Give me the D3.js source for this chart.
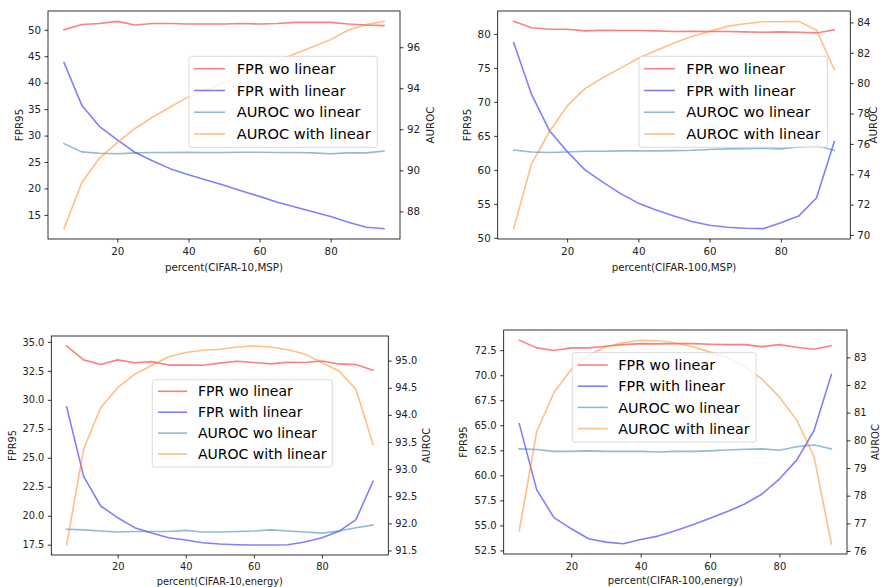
<!DOCTYPE html>
<html>
<head>
<meta charset="utf-8">
<script src="https://cdn.jsdelivr.net/npm/d3@7"></script>
<style>
  body { margin: 0; background: #fff; }
  svg { display: block; }
  text { font-family: "DejaVu Sans", sans-serif; fill: #222; }
</style>
</head>
<body>
<svg id="fig" width="883" height="587"></svg>
<script>
// Pruning percentage on the x axis (shared by all four runs)
const percent = [5, 10, 15, 20, 25, 30, 35, 40, 45, 50, 55, 60, 65, 70, 75, 80, 85, 90, 95];
const xTicks = [20, 40, 60, 80];

const seriesNames = ["FPR wo linear", "FPR with linear", "AUROC wo linear", "AUROC with linear"];

// CIFAR-10, MSP
const c10mspFprWo   = [50.0, 51.0, 51.2, 51.6, 50.9, 51.2, 51.2, 51.1, 51.1, 51.1, 51.2, 51.1, 51.2, 51.4, 51.4, 51.4, 51.1, 50.9, 50.8];
const c10mspFprWith = [43.8, 35.75, 31.7, 29.2, 26.8, 25.2, 23.7, 22.6, 21.6, 20.6, 19.5, 18.5, 17.4, 16.5, 15.6, 14.7, 13.6, 12.65, 12.4];
const c10mspAucWo   = [91.3, 90.9, 90.83, 90.81, 90.85, 90.87, 90.87, 90.88, 90.87, 90.87, 90.88, 90.88, 90.87, 90.87, 90.85, 90.81, 90.85, 90.85, 90.94];
const c10mspAucWith = [87.16, 89.4, 90.6, 91.35, 92.04, 92.6, 93.1, 93.58, 93.93, 94.27, 94.63, 94.97, 95.32, 95.68, 96.02, 96.37, 96.84, 97.1, 97.26];
const c10mspLeftTicks  = [15, 20, 25, 30, 35, 40, 45, 50];
const c10mspRightTicks = [88, 90, 92, 94, 96];

// CIFAR-100, MSP
const c100mspFprWo   = [81.85, 80.9, 80.7, 80.7, 80.45, 80.55, 80.5, 80.5, 80.45, 80.35, 80.4, 80.35, 80.35, 80.3, 80.25, 80.3, 80.25, 80.15, 80.6];
const c100mspFprWith = [78.7, 71.1, 65.8, 62.7, 60.0, 58.2, 56.5, 55.1, 54.1, 53.2, 52.4, 51.85, 51.55, 51.4, 51.35, 52.2, 53.2, 55.85, 64.15];
const c100mspAucWo   = [75.6, 75.47, 75.43, 75.47, 75.52, 75.52, 75.54, 75.54, 75.54, 75.56, 75.58, 75.63, 75.67, 75.69, 75.71, 75.67, 75.8, 75.9, 75.58];
const c100mspAucWith = [70.42, 74.69, 76.8, 78.5, 79.64, 80.36, 80.99, 81.64, 82.15, 82.65, 83.08, 83.41, 83.74, 83.91, 84.04, 84.04, 84.07, 83.5, 80.9];
const c100mspLeftTicks  = [50, 55, 60, 65, 70, 75, 80];
const c100mspRightTicks = [70, 72, 74, 76, 78, 80, 82, 84];

// CIFAR-10, energy
const c10enFprWo   = [34.65, 33.45, 33.05, 33.45, 33.2, 33.3, 33.0, 33.0, 32.98, 33.17, 33.33, 33.22, 33.1, 33.24, 33.22, 33.35, 33.1, 33.04, 32.55];
const c10enFprWith = [29.39, 23.4, 20.84, 19.83, 18.97, 18.51, 18.1, 17.9, 17.67, 17.56, 17.5, 17.47, 17.47, 17.5, 17.73, 18.1, 18.65, 19.66, 22.97];
const c10enAucWo   = [91.89, 91.88, 91.86, 91.84, 91.85, 91.85, 91.85, 91.87, 91.84, 91.84, 91.85, 91.86, 91.88, 91.86, 91.84, 91.82, 91.86, 91.92, 91.97];
const c10enAucWith = [91.6, 93.37, 94.13, 94.5, 94.75, 94.91, 95.07, 95.15, 95.19, 95.21, 95.25, 95.27, 95.25, 95.2, 95.12, 94.96, 94.81, 94.47, 93.46];
const c10enLeftTicks  = [17.5, 20.0, 22.5, 25.0, 27.5, 30.0, 32.5, 35.0];
const c10enRightTicks = [91.5, 92.0, 92.5, 93.0, 93.5, 94.0, 94.5, 95.0];

// CIFAR-100, energy
const c100enFprWo   = [73.5, 72.73, 72.47, 72.73, 72.73, 72.9, 73.06, 73.16, 73.13, 73.16, 73.16, 73.1, 73.06, 73.06, 72.86, 73.06, 72.8, 72.6, 72.96];
const c100enFprWith = [65.14, 58.57, 55.78, 54.66, 53.66, 53.33, 53.16, 53.6, 53.93, 54.46, 55.06, 55.72, 56.39, 57.14, 58.14, 59.63, 61.52, 64.48, 70.08];
const c100enAucWo   = [79.69, 79.67, 79.6, 79.6, 79.62, 79.6, 79.6, 79.6, 79.58, 79.6, 79.6, 79.62, 79.65, 79.68, 79.69, 79.64, 79.77, 79.83, 79.69];
const c100enAucWith = [76.74, 80.31, 81.73, 82.57, 83.08, 83.38, 83.53, 83.62, 83.6, 83.52, 83.38, 83.19, 82.99, 82.66, 82.21, 81.57, 80.73, 79.41, 76.26];
const c100enLeftTicks  = [52.5, 55.0, 57.5, 60.0, 62.5, 65.0, 67.5, 70.0, 72.5];
const c100enRightTicks = [76, 77, 78, 79, 80, 81, 82, 83];

// Matplotlib-like colours: red/blue and tab:blue/tab:orange at alpha 0.5
const colors = ["rgba(255,0,0,0.5)", "rgba(0,0,255,0.5)", "rgba(31,119,180,0.5)", "rgba(255,127,14,0.5)"];

const panels = [
  { xlabel: "percent(CIFAR-10,MSP)", fpr: [c10mspFprWo, c10mspFprWith], auc: [c10mspAucWo, c10mspAucWith],
    lt: c10mspLeftTicks, rt: c10mspRightTicks, fmt: d3.format("d"),
    frame: { x0: 48, y0: 11, x1: 400, y1: 239 }, fs: 10.3,
    yLabL: 19, yLabR: 430, xTickY: 250.7, xLabY: 266.7,
    leg: { x: 189, y: 56.3, w: 188.3, h: 91, r0: 68.7, dr: 21.77, h0: 194, h1: 225, tx: 236.7, fs: 14.6 } },
  { xlabel: "percent(CIFAR-100,MSP)", fpr: [c100mspFprWo, c100mspFprWith], auc: [c100mspAucWo, c100mspAucWith],
    lt: c100mspLeftTicks, rt: c100mspRightTicks, fmt: d3.format("d"),
    frame: { x0: 497.7, y0: 11, x1: 850.3, y1: 239 }, fs: 10.3,
    yLabL: 467, yLabR: 873, xTickY: 250.7, xLabY: 266.7,
    leg: { x: 639, y: 56.3, w: 188.3, h: 91, r0: 68.7, dr: 21.77, h0: 644, h1: 675, tx: 686.3, fs: 14.6 } },
  { xlabel: "percent(CIFAR-10,energy)", fpr: [c10enFprWo, c10enFprWith], auc: [c10enAucWo, c10enAucWith],
    lt: c10enLeftTicks, rt: c10enRightTicks, fmt: d3.format(".1f"),
    frame: { x0: 51.3, y0: 336, x1: 388.3, y1: 555 }, fs: 9.8,
    yLabL: 12.7, yLabR: 426.7, xTickY: 566.7, xLabY: 581,
    leg: { x: 152.3, y: 379.7, w: 180, h: 87.3, r0: 391.3, dr: 20.9, h0: 158, h1: 187, tx: 198, fs: 14 } },
  { xlabel: "percent(CIFAR-100,energy)", fpr: [c100enFprWo, c100enFprWith], auc: [c100enAucWo, c100enAucWith],
    lt: c100enLeftTicks, rt: c100enRightTicks, fmt: d3.format(".1f"),
    frame: { x0: 503.7, y0: 330, x1: 847, y1: 554 }, fs: 10,
    yLabL: 463.7, yLabR: 875.3, xTickY: 566.3, xLabY: 580.7,
    leg: { x: 572.3, y: 352.7, w: 183.7, h: 89.3, r0: 365, dr: 21.2, h0: 577.7, h1: 607.7, tx: 618.3, fs: 14.3 } }
];
panels[3].rfmt = d3.format("d");

// Domain with a 5% margin on each side, as matplotlib autoscaling does
function padded(arrays) {
  const all = arrays.flat();
  const lo = d3.min(all), hi = d3.max(all), m = (hi - lo) * 0.05;
  return [lo - m, hi + m];
}

const svg = d3.select("#fig");

panels.forEach(p => {
  const f = p.frame;
  const x = d3.scaleLinear().domain(padded([percent])).range([f.x0, f.x1]);
  const yL = d3.scaleLinear().domain(padded(p.fpr)).range([f.y1, f.y0]);
  const yR = d3.scaleLinear().domain(padded(p.auc)).range([f.y1, f.y0]);
  const g = svg.append("g");

  const clipId = "clip" + Math.round(f.x0) + "_" + Math.round(f.y0);
  g.append("clipPath").attr("id", clipId).append("rect")
    .attr("x", f.x0).attr("y", f.y0).attr("width", f.x1 - f.x0).attr("height", f.y1 - f.y0);

  const styleAxis = (sel, fs) => {
    sel.select(".domain").remove();
    sel.selectAll(".tick line").attr("stroke", "#000").attr("stroke-width", 0.8);
    sel.selectAll(".tick text").attr("font-size", fs).style("fill", "#222");
  };

  // x axis
  g.append("g").attr("transform", `translate(0,${f.y1})`)
    .call(d3.axisBottom(x).tickValues(xTicks).tickFormat(d3.format("d")).tickSize(3.5).tickPadding(3))
    .call(s => styleAxis(s, p.fs))
    .selectAll(".tick text").attr("dy", null).attr("y", p.xTickY - f.y1).attr("dominant-baseline", "central");

  // left axis
  g.append("g").attr("transform", `translate(${f.x0},0)`)
    .call(d3.axisLeft(yL).tickValues(p.lt).tickFormat(p.fmt).tickSize(3.5).tickPadding(3.5))
    .call(s => styleAxis(s, p.fs));

  // right axis
  g.append("g").attr("transform", `translate(${f.x1},0)`)
    .call(d3.axisRight(yR).tickValues(p.rt).tickFormat(p.rfmt || p.fmt).tickSize(3.5).tickPadding(3.5))
    .call(s => styleAxis(s, p.fs));

  // series lines
  const lines = g.append("g").attr("clip-path", `url(#${clipId})`);
  const draw = (vals, scale, color) => {
    const line = d3.line().x((d, i) => x(percent[i])).y(d => scale(d));
    lines.append("path").datum(vals).attr("d", line)
      .attr("fill", "none").attr("stroke", color).attr("stroke-width", 1.6)
      .attr("stroke-linejoin", "round").attr("stroke-linecap", "square");
  };
  draw(p.fpr[0], yL, colors[0]);
  draw(p.fpr[1], yL, colors[1]);
  draw(p.auc[0], yR, colors[2]);
  draw(p.auc[1], yR, colors[3]);

  // frame
  g.append("rect").attr("x", f.x0).attr("y", f.y0)
    .attr("width", f.x1 - f.x0).attr("height", f.y1 - f.y0)
    .attr("fill", "none").attr("stroke", "#000").attr("stroke-width", 0.8);

  // axis labels
  const cy = (f.y0 + f.y1) / 2;
  g.append("text").attr("transform", `translate(${p.yLabL},${cy}) rotate(-90)`)
    .attr("text-anchor", "middle").attr("dominant-baseline", "central").attr("font-size", p.fs).text("FPR95");
  g.append("text").attr("transform", `translate(${p.yLabR},${cy}) rotate(-90)`)
    .attr("text-anchor", "middle").attr("dominant-baseline", "central").attr("font-size", p.fs).text("AUROC");
  g.append("text").attr("x", (f.x0 + f.x1) / 2).attr("y", p.xLabY)
    .attr("text-anchor", "middle").attr("dominant-baseline", "central").attr("font-size", p.fs).text(p.xlabel);

  // legend
  const L = p.leg;
  const lg = g.append("g");
  lg.append("rect").attr("x", L.x).attr("y", L.y).attr("width", L.w).attr("height", L.h)
    .attr("rx", 2.5).attr("fill", "rgba(255,255,255,0.8)").attr("stroke", "#d0d0d0").attr("stroke-width", 0.8);
  seriesNames.forEach((name, i) => {
    const yy = L.r0 + i * L.dr;
    lg.append("line").attr("x1", L.h0).attr("x2", L.h1).attr("y1", yy).attr("y2", yy)
      .attr("stroke", colors[i]).attr("stroke-width", 1.6);
    lg.append("text").attr("x", L.tx).attr("y", yy).attr("dy", "0.36em")
      .attr("font-size", L.fs).style("fill", "#000").text(name);
  });
});
</script>
</body>
</html>
